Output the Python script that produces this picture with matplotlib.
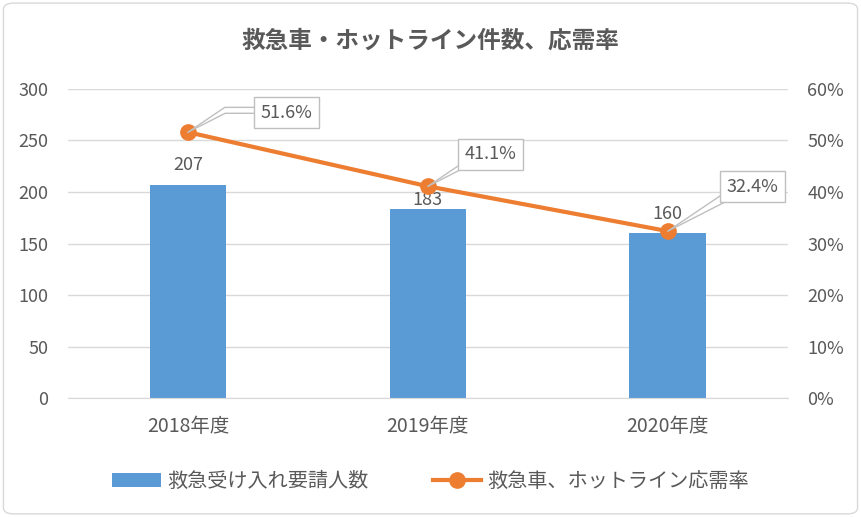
import matplotlib.pyplot as plt
from matplotlib.patches import FancyBboxPatch
from matplotlib.ticker import PercentFormatter

plt.rcParams['font.family'] = ['Noto Sans CJK JP', 'DejaVu Sans']

years = ["2018年度", "2019年度", "2020年度"]
requests = [207, 183, 160]
response_rate = [51.6, 41.1, 32.4]
rate_labels = ["51.6%", "41.1%", "32.4%"]

# label placement (offset points) - tuned by eye
bar_label_dy = [8, 0, 7]
rate_label_off = [(71, 14), (45, 23), (61, 32)]

BLUE = "#5B9BD5"
ORANGE = "#ED7D31"
TXT = "#595959"
GRID = "#D9D9D9"


def main():
    fig = plt.figure(figsize=(8.61, 5.17), dpi=100)
    ax = fig.add_axes([0.079, 0.230, 0.836, 0.598])
    ax2 = ax.twinx()

    x = list(range(len(years)))
    bars = ax.bar(x, requests, width=0.32, color=BLUE, zorder=2,
                  label="救急受け入れ要請人数")
    ax.set_xlim(-0.5, 2.5)
    ax.set_ylim(0, 300)
    ax.set_yticks(range(0, 301, 50))
    ax.grid(axis='y', color=GRID, linewidth=1, zorder=0)
    ax.set_axisbelow(True)
    ax.set_xticks(x)
    ax.set_xticklabels(years)
    for s in ax.spines.values():
        s.set_visible(False)
    ax.spines['bottom'].set_visible(True)
    ax.spines['bottom'].set_color(GRID)
    ax.tick_params(length=0, colors=TXT, labelsize=13)
    ax.tick_params(axis='x', pad=13, labelsize=14)
    ax.tick_params(axis='y', pad=14)

    for b, v, dy in zip(bars, requests, bar_label_dy):
        ax.annotate(str(v), (b.get_x() + b.get_width() / 2, v),
                    xytext=(0, dy), textcoords='offset points',
                    ha='center', va='bottom', fontsize=13, color=TXT, zorder=5)

    line, = ax2.plot(x, response_rate, color=ORANGE, linewidth=3,
                     marker='o', markersize=11, zorder=3,
                     label="救急車、ホットライン応需率")
    ax2.set_ylim(0, 60)
    ax2.set_yticks(range(0, 61, 10))
    ax2.yaxis.set_major_formatter(PercentFormatter(decimals=0))
    for s in ax2.spines.values():
        s.set_visible(False)
    ax2.tick_params(length=0, colors=TXT, labelsize=13, pad=14)

    for xi, v, lab, off in zip(x, response_rate, rate_labels, rate_label_off):
        for rp, ang, show in [((0, 0.47), 27, True), ((0, 0.8), 34, False)]:
            ax2.annotate(lab, (xi, v), xytext=off, textcoords='offset points',
                         ha='center', va='center', fontsize=13,
                         color=TXT if show else 'none',
                         bbox=dict(boxstyle='square,pad=0.35', fc='white',
                                   ec='#BFBFBF' if show else 'none', lw=1),
                         arrowprops=dict(arrowstyle='-', color='#BFBFBF', lw=1,
                                         relpos=rp, shrinkA=0, shrinkB=0,
                                         connectionstyle=f'angle,angleA=0,angleB={ang},rad=0'),
                         zorder=6 if show else 5)

    fig.text(0.5, 0.922, "救急車・ホットライン件数、応需率", ha='center', va='center',
             fontsize=17, color=TXT, fontweight='bold')

    fig.legend(handles=[bars, line], loc='center', bbox_to_anchor=(0.5, 0.068),
               ncol=2, frameon=False, fontsize=14.5, labelcolor=TXT,
               handlelength=2.4, columnspacing=3.2, handletextpad=0.3)

    border = FancyBboxPatch((0.004, 0.006), 0.992, 0.988, transform=fig.transFigure,
                            boxstyle='round,pad=0,rounding_size=0.012',
                            fc='none', ec=GRID, lw=1)
    fig.patches.append(border)

    fig.savefig("out.png", dpi=100)


if __name__ == "__main__":
    main()
